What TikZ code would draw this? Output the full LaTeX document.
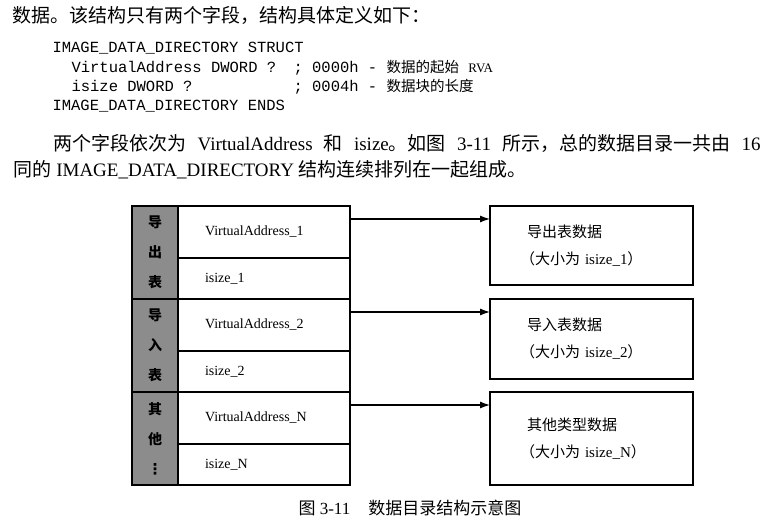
\documentclass[tikz,border=0pt]{standalone}
\usepackage{fontspec}
\setmainfont{Liberation Serif}
\setmonofont{Liberation Mono}
\newfontfamily\cjk{Noto Sans CJK SC}
\newfontfamily\symb{DejaVu Sans}
\usetikzlibrary{positioning}
\usetikzlibrary{arrows.meta}

\begin{document}
\begin{tikzpicture}[x=1pt,y=-1pt,>={Latex[length=10pt,width=7pt]},
	line width=1.1pt,
	text line/.style={anchor=base west,inner sep=0pt,font=\fontsize{19}{19}\selectfont},
	code line/.style={anchor=base west,inner sep=0pt,font=\ttfamily\fontsize{15.5}{15.5}\selectfont},
	label node/.style={draw,fill=black!45,minimum width=46pt,minimum height=93pt,inner sep=0pt,outer sep=0pt,align=center,font=\cjk\bfseries\fontsize{14}{30}\selectfont},
	field node/.style={draw,minimum height=52pt,text width=118pt,inner xsep=27pt,inner ysep=0pt,outer sep=0pt,align=left,font=\fontsize{14}{14}\selectfont},
	size node/.style={field node,minimum height=41pt},
	data node/.style={draw,text width=129pt,inner xsep=37pt,inner ysep=0pt,outer sep=0pt,align=left,font=\fontsize{15}{27}\selectfont}]
	
	\useasboundingbox (0,0) rectangle (774,526);
	
	% text above the figure
	\node[text line] (p0) at (12,23) {{\cjk 数据。该结构只有两个字段，结构具体定义如下：}};
	\node[code line] (c1) at (52,53) {IMAGE\_DATA\_DIRECTORY STRUCT};
	\node[code line] (c2) at (71,73) {VirtualAddress DWORD ?};
	\node[code line] (c3) at (71,92) {isize DWORD ?};
	\node[code line] (c4) at (52,111) {IMAGE\_DATA\_DIRECTORY ENDS};
	\node[code line] (m1) at (293,73) {; 0000h - {\cjk\fontsize{14.5}{14.5}\selectfont 数据的起始} {\rmfamily\fontsize{13}{13}\selectfont RVA}};
	\node[code line] (m2) at (293,92) {; 0004h - {\cjk\fontsize{14.5}{14.5}\selectfont 数据块的长度}};
	\node[text line] (p1) at (53,151) {\makebox[707pt][s]{{\cjk 两个字段依次为} VirtualAddress {\cjk 和} isize{\cjk 。如图} 3-11 {\cjk 所示，总的数据目录一共由} 16}};
	\node[text line] (p2) at (13,177) {{\cjk 同的} IMAGE\_DATA\_DIRECTORY {\cjk 结构连续排列在一起组成。}};
	
	% directory table
	\node[label node,anchor=north west] (g1) at (132,206) {导\\出\\表};
	\node[label node,below=0pt of g1] (g2) {导\\入\\表};
	\node[label node,below=0pt of g2] (g3) {其\\他\\{\symb\fontsize{15}{15}\selectfont ⋮}};
	
	\node[field node,anchor=north west] (va1) at (g1.north east) {VirtualAddress\_1};
	\node[size node,below=0pt of va1] (sz1) {isize\_1};
	\node[field node,below=0pt of sz1] (va2) {VirtualAddress\_2};
	\node[size node,below=0pt of va2] (sz2) {isize\_2};
	\node[field node,below=0pt of sz2] (va3) {VirtualAddress\_N};
	\node[size node,below=0pt of va3] (sz3) {isize\_N};
	
	% data blocks
	\node[data node,minimum height=79pt,anchor=north west] (d1) at ([xshift=140pt]va1.north east) {{\cjk 导出表数据}\\\hspace*{-7pt}{\cjk （大小为} isize\_1{\cjk ）}};
	\node[data node,minimum height=80pt,below=14pt of d1] (d2) {{\cjk 导入表数据}\\\hspace*{-7pt}{\cjk （大小为} isize\_2{\cjk ）}};
	\node[data node,minimum height=93pt,below=13pt of d2] (d3) {{\cjk 其他类型数据}\\\hspace*{-7pt}{\cjk （大小为} isize\_N{\cjk ）}};
	
	\draw[->] ([yshift=-13pt]va1.north east) -- ([yshift=-13pt]d1.north west);
	\draw[->] ([yshift=-13pt]va2.north east) -- ([yshift=-13pt]d2.north west);
	\draw[->] ([yshift=-13pt]va3.north east) -- ([yshift=-13pt]d3.north west);
	
	\node[anchor=base west,inner sep=0pt,font=\fontsize{17}{17}\selectfont] (cap) at (298,514) {{\cjk 图} 3-11\hspace{18pt}{\cjk 数据目录结构示意图}};
\end{tikzpicture}
\end{document}
